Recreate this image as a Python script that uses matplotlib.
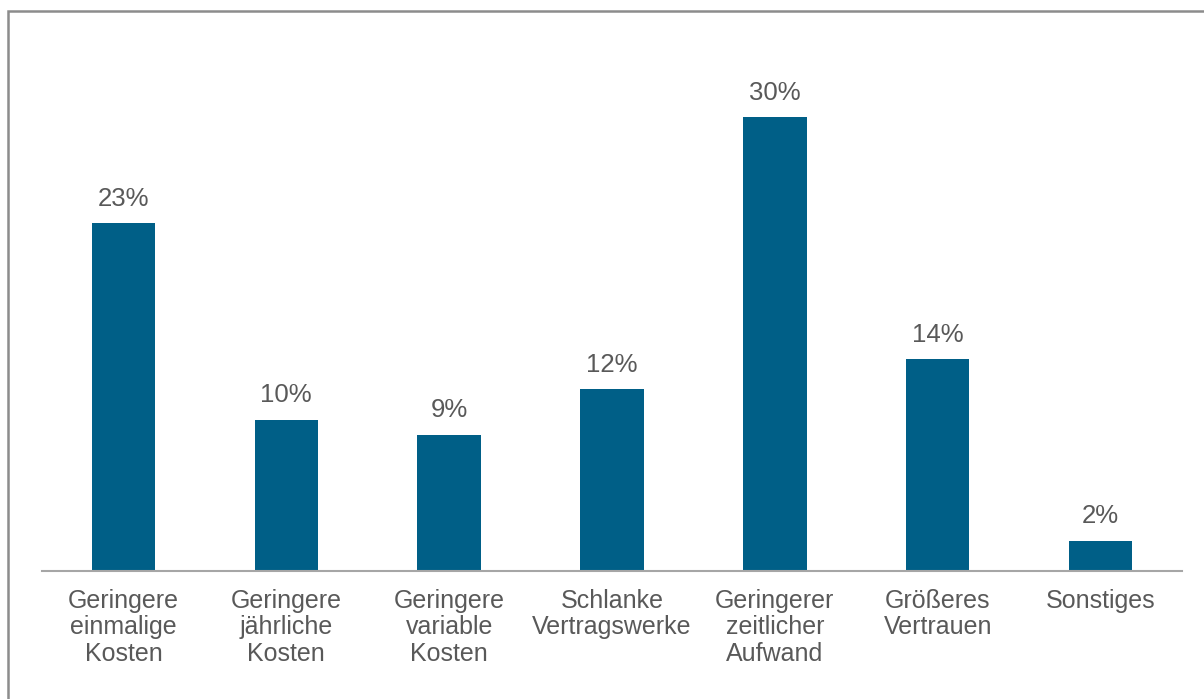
import matplotlib.pyplot as plt
from matplotlib.patches import Rectangle

plt.rcParams['font.family'] = ['Liberation Sans', 'DejaVu Sans']

categories = ['Geringere\neinmalige\nKosten', 'Geringere\njährliche\nKosten',
              'Geringere\nvariable\nKosten', 'Schlanke\nVertragswerke',
              'Geringerer\nzeitlicher\nAufwand', 'Größeres\nVertrauen', 'Sonstiges']
values = [23, 10, 9, 12, 30, 14, 2]

bar_color = '#005f87'
text_color = '#595959'

fig = plt.figure(figsize=(12.04, 6.99), dpi=100)
ax = fig.add_axes([42 / 1204, 1 - 571 / 699, 1140 / 1204, 530 / 699])

x = range(len(values))
ax.bar(x, values, width=0.39, color=bar_color)
for i, v in enumerate(values):
    ax.annotate(f'{v}%', (i, v), xytext=(0, 9), textcoords='offset points',
                ha='center', va='bottom', fontsize=18.5, color=text_color)

ax.set_xlim(-0.5, len(values) - 0.5)
ax.set_ylim(0, 530 / 15.13)
ax.set_yticks([])
ax.set_xticks(list(x))
ax.set_xticklabels(categories, fontsize=18, color=text_color, linespacing=1.12)
ax.tick_params(axis='x', length=0, pad=13)
for s in ['top', 'right', 'left']:
    ax.spines[s].set_visible(False)
ax.spines['bottom'].set_color('#a6a6a6')
ax.spines['bottom'].set_linewidth(1.5)

# outer frame, open to the right and bottom
fig.patches.append(Rectangle((8 / 1204, -0.1), 1.2, 0.1 + (699 - 11) / 699,
                             transform=fig.transFigure, fill=False,
                             edgecolor='#8c8c8c', linewidth=1.8))

fig.savefig('out.png', dpi=100)
